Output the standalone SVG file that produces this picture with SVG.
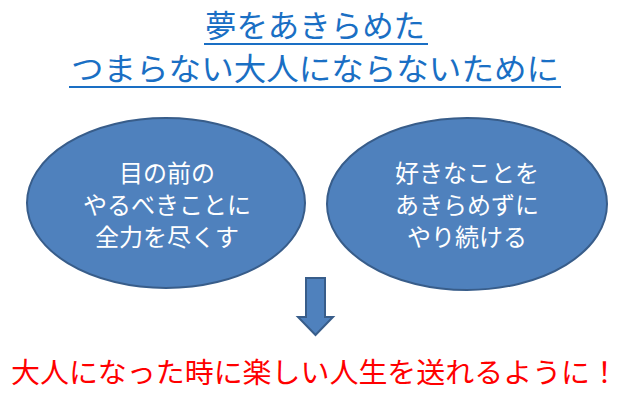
<svg xmlns="http://www.w3.org/2000/svg" width="630" height="412" viewBox="0 0 630 412">
<style>
text{font-family:"Noto Sans CJK JP","Noto Sans CJK SC",sans-serif;text-anchor:middle}
.t{fill:#1A6FC4;font-size:31px}
.n{fill:#4F81BD;stroke:#385D8A;stroke-width:2}
.w{fill:#FFFFFF;font-size:24px}
.r{fill:#FF0000;font-size:28px}
.u{stroke:#1A6FC4;stroke-width:2}
</style>
<rect width="630" height="412" fill="#FFFFFF"/>
<g id="title">
<text class="t" x="315" y="37" textLength="220" lengthAdjust="spacingAndGlyphs">夢をあきらめた</text>
<line class="u" x1="204" y1="44" x2="428" y2="44"/>
<text class="t" x="315" y="80" textLength="488" lengthAdjust="spacingAndGlyphs">つまらない大人にならないために</text>
<line class="u" x1="69" y1="87" x2="561" y2="87"/>
</g>
<g id="left">
<ellipse class="n" cx="166" cy="203" rx="139" ry="85"/>
<text class="w" x="167" y="182">目の前の</text>
<text class="w" x="167" y="214">やるべきことに</text>
<text class="w" x="167" y="246">全力を尽くす</text>
</g>
<g id="right">
<ellipse class="n" cx="467" cy="204" rx="140" ry="86"/>
<text class="w" x="467" y="182">好きなことを</text>
<text class="w" x="467" y="214">あきらめずに</text>
<text class="w" x="467" y="246">やり続ける</text>
</g>
<g id="connectors">
<path class="n" d="M306,278 H325 V317 H333 L315.5,335 L298,317 H306 Z"/>
</g>
<g id="result">
<text class="r" x="315" y="383" textLength="608" lengthAdjust="spacingAndGlyphs">大人になった時に楽しい人生を送れるように！</text>
</g>
</svg>
